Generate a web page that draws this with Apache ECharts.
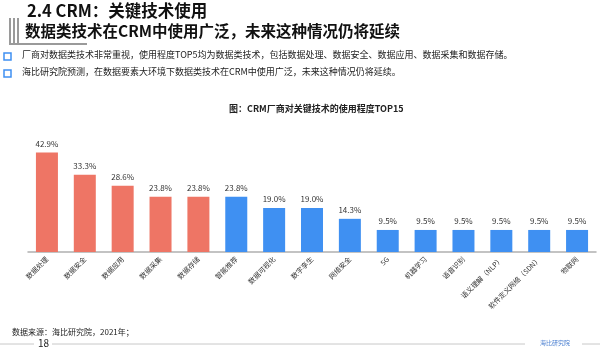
<!DOCTYPE html>
<html>
<head>
<meta charset="utf-8">
<script src="https://cdn.jsdelivr.net/npm/echarts@6/dist/echarts.min.js"></script>
<style>
  html, body { margin: 0; padding: 0; background: #fff; }
  #main { width: 600px; height: 355px; }
</style>
</head>
<body>
<div id="main"></div>
<script>
const font = '"Noto Sans CJK SC", "Noto Sans", sans-serif'

// 横坐标：技术名称
const categories = ['数据处理', '数据安全', '数据应用', '数据采集', '数据存储', '智能推荐', '数据可视化', '数字孪生',
  '网络安全', '5G', '机器学习', '语音识别', '语义理解（NLP）', '软件定义网络（SDN）', '物联网']
// 使用程度 %
const values = [42.9, 33.3, 28.6, 23.8, 23.8, 23.8, 19.0, 19.0, 14.3, 9.5, 9.5, 9.5, 9.5, 9.5, 9.5]
// 前5个是数据类技术，标红
const dataTechCount = 5
const yTicks = [0, 50]

let myChart = echarts.init(document.getElementById('main'))

myChart.setOption({
  animation: false,
  textStyle: { fontFamily: font },
  grid: { left: 28, right: 4, top: 136, bottom: 103, containLabel: false },
  xAxis: {
    type: 'category',
    data: categories,
    axisTick: { show: false },
    axisLine: { lineStyle: { color: '#b0b0b0', width: 1.5 } },
    axisLabel: { rotate: 45, fontSize: 7, color: '#333', interval: 0, margin: 6, fontFamily: font }
  },
  yAxis: {
    type: 'value',
    min: yTicks[0],
    max: yTicks[1],
    show: false
  },
  series: [
    {
      type: 'bar',
      data: values,
      barWidth: 22,
      itemStyle: {
        color: (p) => p.dataIndex < dataTechCount ? '#ee7565' : '#3f90f2'
      },
      label: {
        show: true,
        position: 'top',
        distance: 5,
        fontSize: 8,
        color: '#333',
        fontFamily: font,
        formatter: (p) => p.value.toFixed(1) + '%'
      }
    }
  ],
  graphic: [
    // 左上角装饰线
    { type: 'rect', shape: { x: 9, y: 18, width: 2, height: 26 }, style: { fill: '#9a9a9a' } },
    { type: 'rect', shape: { x: 13, y: 18, width: 2, height: 26 }, style: { fill: '#9a9a9a' } },
    { type: 'rect', shape: { x: 17, y: 18, width: 2, height: 26 }, style: { fill: '#9a9a9a' } },
    { type: 'rect', shape: { x: 9, y: 43, width: 78, height: 2 }, style: { fill: '#9a9a9a' } },
    {
      type: 'text', left: 27, top: 2,
      style: { text: '2.4 CRM：关键技术使用', fontSize: 16.5, fontWeight: 'bold', fill: '#111', fontFamily: font }
    },
    {
      type: 'text', left: 25, top: 23,
      style: { text: '数据类技术在CRM中使用广泛，未来这种情况仍将延续', fontSize: 15.5, fontWeight: 'bold', fill: '#111', fontFamily: font }
    },
    { type: 'rect', shape: { x: 4, y: 53, width: 7, height: 7 }, style: { fill: '#fff', stroke: '#3f90f2', lineWidth: 1.5 } },
    {
      type: 'text', left: 22, top: 50,
      style: { text: '厂商对数据类技术非常重视，使用程度TOP5均为数据类技术，包括数据处理、数据安全、数据应用、数据采集和数据存储。', fontSize: 9, fill: '#222', fontFamily: font }
    },
    { type: 'rect', shape: { x: 4, y: 70, width: 7, height: 7 }, style: { fill: '#fff', stroke: '#3f90f2', lineWidth: 1.5 } },
    {
      type: 'text', left: 22, top: 67,
      style: { text: '海比研究院预测，在数据要素大环境下数据类技术在CRM中使用广泛，未来这种情况仍将延续。', fontSize: 9, fill: '#222', fontFamily: font }
    },
    {
      type: 'text', left: 229, top: 104,
      style: { text: '图：CRM厂商对关键技术的使用程度TOP15', fontSize: 9, fontWeight: 'bold', fill: '#222', fontFamily: font }
    },
    {
      type: 'text', left: 12, top: 328,
      style: { text: '数据来源：海比研究院，2021年；', fontSize: 8, fill: '#222', fontFamily: font }
    },
    { type: 'line', shape: { x1: 0, y1: 344, x2: 34, y2: 344 }, style: { stroke: '#c8c8c8', lineWidth: 1 } },
    { type: 'line', shape: { x1: 52, y1: 344, x2: 525, y2: 344 }, style: { stroke: '#c8c8c8', lineWidth: 1 } },
    { type: 'line', shape: { x1: 582, y1: 344, x2: 600, y2: 344 }, style: { stroke: '#c8c8c8', lineWidth: 1 } },
    {
      type: 'text', left: 38, top: 338,
      style: { text: '18', fontSize: 10, fill: '#222', fontFamily: font }
    },
    {
      type: 'text', left: 540, top: 340,
      style: { text: '海比研究院', fontSize: 6, fill: '#4a7fd0', fontFamily: font }
    }
  ]
})
</script>
</body>
</html>
